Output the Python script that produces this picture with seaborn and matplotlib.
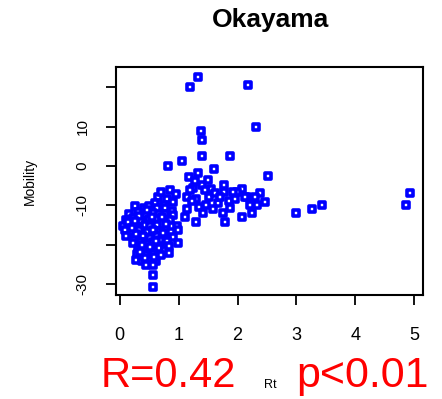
import pandas as pd
import matplotlib.pyplot as plt
import seaborn as sns

# Values
rt_sparse = [1.33, 1.19, 2.18, 1.38, 1.39, 2.31, 1.40, 1.87, 0.82, 1.05,
             1.60, 1.33, 1.17, 2.52, 2.99, 3.27, 3.44, 4.93, 4.86]
mob_sparse = [22.6, 20.1, 20.6, 8.9, 6.6, 9.9, 2.5, 2.5, 0.0, 1.2,
              -0.8, -1.8, -2.8, -2.6, -12.0, -11.0, -9.9, -6.9, -9.9]

rt_mid = [1.39, 1.77, 1.14, 1.51, 1.77, 2.07, 1.99, 2.38, 2.16, 2.21,
          2.33, 2.47, 1.46, 1.67, 1.75, 1.79, 2.07, 2.24, 1.14, 1.11,
          1.29, 1.92, 2.13, 1.25, 1.30, 1.55, 1.62, 1.45, 1.70, 1.85,
          1.35, 1.22, 1.58, 2.30, 1.95, 1.28, 1.50, 1.20, 1.42, 1.88]
mob_mid = [-4.8, -4.8, -7.9, -7.9, -6.6, -5.9, -6.6, -6.9, -7.9, -9.9,
           -9.9, -9.2, -9.9, -9.5, -12.0, -14.2, -13.0, -12.0, -11.0, -13.0,
           -14.2, -6.6, -7.9, -5.5, -8.5, -5.8, -6.9, -6.2, -8.0, -9.0,
           -10.5, -9.0, -11.0, -8.0, -8.5, -3.8, -3.5, -6.0, -12.0, -10.8]

rt_left = [0.65, 0.80, 0.90, 0.75, 0.77, 0.70, 0.85, 0.95, 0.60, 0.88]
mob_left = [-7.9, -8.4, -9.2, -9.9, -10.7, -6.5, -6.0, -7.0, -9.5, -11.5]

rt_low = [0.26, 0.41, 0.49, 0.63,
          0.16, 0.31, 0.44, 0.57, 0.76, 0.91,
          0.11, 0.23, 0.36, 0.49, 0.61, 0.71, 0.86,
          0.05, 0.17, 0.29, 0.43, 0.52, 0.64, 0.79, 0.97,
          0.09, 0.21, 0.33, 0.46, 0.56, 0.69, 0.87, 0.99,
          0.10, 0.24, 0.39, 0.51, 0.63, 0.74, 0.91,
          0.22, 0.35, 0.47, 0.57, 0.67, 0.81, 0.99,
          0.31, 0.41, 0.54, 0.66, 0.77,
          0.29, 0.44, 0.56, 0.70, 0.83,
          0.27, 0.37, 0.49, 0.61,
          0.44, 0.56, 0.56, 0.56,
          0.14, 0.27, 0.38, 0.58, 0.47, 0.33, 0.68, 0.20,
          0.52, 0.42, 0.62, 0.35, 0.74, 0.83, 0.25, 0.55]
mob_low = [-10.3, -10.8, -10.1, -10.6,
           -12.2, -11.7, -12.4, -11.9, -12.1, -12.5,
           -13.7, -13.2, -13.9, -13.4, -13.6, -13.1, -13.8,
           -15.2, -14.8, -15.4, -14.9, -15.3, -15.1, -14.7, -15.2,
           -16.4, -16.8, -16.3, -16.7, -16.2, -16.6, -16.9, -16.4,
           -17.9, -18.3, -17.8, -18.2, -17.7, -18.4, -18.1,
           -19.6, -19.3, -19.8, -19.4, -19.7, -19.2, -19.6,
           -21.2, -20.8, -21.1, -20.9, -21.3,
           -22.4, -22.7, -22.3, -22.6, -22.2,
           -23.8, -24.2, -23.9, -24.1,
           -25.1, -25.3, -27.7, -30.8,
           -14.2, -17.3, -20.1, -23.1, -11.3, -12.8, -18.9, -15.8,
           -20.6, -23.4, -19.0, -21.8, -17.0, -20.3, -14.0, -13.0]

df = pd.DataFrame({
    'Rt': rt_sparse + rt_mid + rt_left + rt_low,
    'Mobility': mob_sparse + mob_mid + mob_left + mob_low,
})

sns.set_style("ticks")
plt.rcParams['font.family'] = ['Liberation Sans', 'DejaVu Sans']

fig = plt.figure(figsize=(4.42, 3.99), dpi=100)
ax = fig.add_axes([0.262, 0.261, 0.695, 0.571])

sns.scatterplot(data=df, x='Rt', y='Mobility', ax=ax, marker='s', s=18,
                facecolor='white', edgecolor='#0000ff', linewidth=2.6)

ax.set_xlim(-0.068, 5.15)
ax.set_ylim(-32.8, 25.2)
ax.set_xticks([0, 1, 2, 3, 4, 5])
ax.set_yticks([-30, -20, -10, 0, 10, 20])
ax.set_yticklabels(['-30', '', '-10', '0', '10', ''], rotation=90, va='center')
ax.tick_params(axis='x', labelsize=13, length=7, width=1.3, pad=16,
               colors='black')
ax.tick_params(axis='y', labelsize=11, length=7, width=1.3, pad=12,
               colors='black')
for sp in ax.spines.values():
    sp.set_visible(True)
    sp.set_linewidth(1.5)
    sp.set_color('black')

ax.set_xlabel('')
ax.set_ylabel('Mobility', fontsize=10, labelpad=28, color='black')

fig.text(0.611, 0.95, 'Okayama', ha='center', va='center',
         fontsize=19, fontweight='bold', color='black')
fig.text(0.612, 0.035, 'Rt', ha='center', va='center', fontsize=9,
         color='black')
fig.text(0.38, 0.058, 'R=0.42', ha='center', va='center',
         fontsize=30, color='#ff0000')
fig.text(0.82, 0.058, 'p<0.01', ha='center', va='center',
         fontsize=31, color='#ff0000')

plt.savefig('out.png', dpi=100, facecolor='white')
